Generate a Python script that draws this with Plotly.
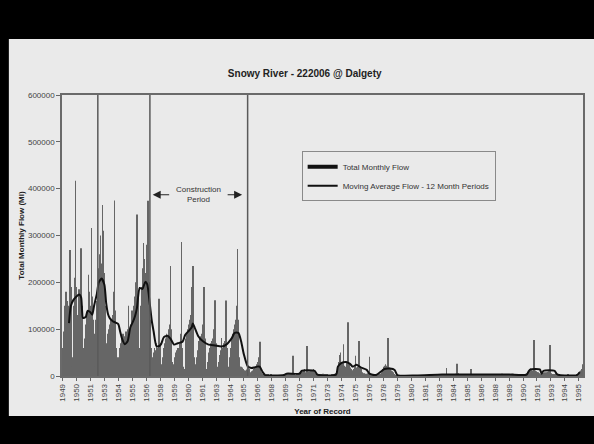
import pandas as pd
import plotly.graph_objects as go

# ---------------- data ----------------
start_month = "1949-05"

# Total monthly flow, thousands of Ml, one value per month from May 1949
flow_kml = [
    60, 95, 140, 150, 180, 160, 120, 150, 269, 190, 20, 40,
    150, 210, 417, 190, 130, 150, 185, 170, 273, 150, 30, 60,
    80, 110, 130, 140, 216, 180, 150, 316, 170, 120, 90, 20,
    120, 160, 200, 230, 260, 300, 240, 365, 310, 220, 150, 30,
    70, 90, 100, 110, 120, 100, 130, 180, 375, 140, 60, 40,
    15, 40, 60, 70, 80, 90, 75, 85, 95, 60, 100, 150,
    90, 110, 120, 140, 130, 150, 170, 200, 345, 180, 60, 40,
    150, 190, 230, 284, 250, 180, 220, 280, 374, 200, 120, 60,
    30, 40, 50, 60, 55, 70, 60, 80, 165, 70, 25, 15,
    40, 60, 70, 80, 90, 85, 100, 110, 235, 100, 30, 20,
    25, 40, 50, 55, 60, 50, 70, 90, 286, 60, 20, 15,
    60, 80, 90, 100, 110, 120, 130, 190, 235, 110, 40, 25,
    40, 55, 65, 75, 80, 85, 90, 110, 190, 80, 25, 15,
    30, 50, 60, 70, 65, 75, 80, 100, 162, 70, 20, 12,
    30, 45, 55, 81, 60, 70, 75, 100, 161, 60, 20, 10,
    40, 60, 80, 90, 100, 110, 120, 150, 271, 120, 40, 20,
    20, 18, 15, 12, 12, 10, 14, 15, 20, 15, 8, 6,
    10, 12, 15, 18, 20, 25, 30, 40, 73, 20, 8, 5,
    3, 2, 2, 2, 3, 3, 2, 2, 3, 2, 1, 1,
    1, 1, 1, 2, 2, 2, 1, 1, 2, 1, 1, 1,
    2, 2, 3, 3, 4, 4, 3, 5, 43, 4, 2, 1,
    3, 4, 5, 8, 10, 12, 10, 12, 15, 8, 5, 64,
    10, 8, 10, 12, 10, 12, 15, 8, 5, 3, 2, 2,
    2, 3, 3, 4, 5, 4, 3, 3, 4, 3, 2, 2,
    2, 2, 3, 3, 4, 5, 6, 8, 15, 30, 45, 50,
    30, 28, 68, 22, 18, 20, 28, 115, 25, 18, 15, 12,
    12, 15, 20, 43, 18, 20, 25, 75, 20, 15, 8, 5,
    6, 5, 4, 5, 6, 6, 41, 4, 3, 2, 2, 2,
    2, 2, 2, 2, 3, 4, 5, 8, 15, 20, 22, 25,
    22, 20, 81, 18, 15, 12, 10, 8, 5, 3, 2, 2,
    2, 2, 1, 1, 2, 2, 2, 1, 1, 1, 1, 1,
    1, 1, 1, 1, 1, 2, 1, 1, 1, 1, 1, 1,
    1, 1, 1, 1, 2, 2, 1, 1, 1, 1, 1, 1,
    1, 1, 1, 2, 2, 2, 2, 1, 1, 1, 1, 1,
    2, 2, 3, 4, 3, 17, 3, 3, 4, 3, 2, 2,
    3, 3, 4, 5, 26, 6, 4, 3, 3, 2, 2, 2,
    2, 2, 3, 3, 4, 3, 3, 15, 3, 2, 2, 2,
    2, 2, 3, 3, 4, 3, 3, 3, 2, 2, 2, 2,
    1, 1, 2, 2, 3, 3, 2, 2, 2, 1, 1, 1,
    2, 3, 3, 4, 5, 5, 4, 3, 3, 2, 2, 2,
    2, 3, 4, 5, 5, 4, 3, 3, 3, 2, 2, 2,
    2, 2, 3, 3, 4, 4, 5, 6, 8, 10, 14, 16,
    14, 12, 10, 77, 12, 10, 8, 8, 6, 5, 4, 5,
    6, 7, 8, 8, 7, 8, 9, 10, 66, 6, 4, 3,
    2, 3, 3, 3, 3, 2, 2, 2, 2, 1, 1, 1,
    1, 2, 2, 3, 3, 2, 2, 2, 1, 1, 1, 1,
    2, 3, 5, 8, 10, 12, 15, 25,
]

# 12-month moving average, read at these months (thousands of Ml)
ma_months = [
    "1949-12", "1950-02", "1950-05", "1950-08", "1950-11", "1951-01", "1951-02", "1951-03",
    "1951-06", "1951-08", "1951-11", "1952-01", "1952-03", "1952-06", "1952-08", "1952-11",
    "1953-02", "1953-04", "1953-06", "1953-08", "1953-11", "1954-02", "1954-05", "1954-07",
    "1954-09", "1954-12", "1955-03", "1955-06", "1955-09", "1955-11", "1956-01", "1956-04",
    "1956-07", "1956-10", "1956-12", "1957-03", "1957-05", "1957-07", "1957-10", "1958-01",
    "1958-03", "1958-06", "1958-10", "1959-01", "1959-05", "1959-09", "1960-02", "1960-05",
    "1960-09", "1960-12", "1961-01", "1961-03", "1961-07", "1961-12", "1962-06", "1963-01",
    "1963-08", "1964-01", "1964-07", "1964-10", "1965-02", "1965-05", "1965-08", "1965-12",
    "1966-04", "1966-07", "1966-10", "1967-01", "1967-04", "1967-07", "1968-05", "1969-03",
    "1969-06", "1970-08", "1970-10", "1971-12", "1972-03", "1973-11", "1974-01", "1974-05",
    "1974-10", "1975-02", "1975-05", "1975-09", "1976-02", "1976-08", "1976-11", "1977-06",
    "1977-11", "1978-03", "1978-09", "1979-02", "1979-05", "1981-01", "1983-05", "1986-09",
    "1989-05", "1990-12", "1991-02", "1991-04", "1992-02", "1992-04", "1992-06", "1993-06",
    "1993-08", "1993-11", "1995-06", "1995-09",
]
ma_kml = [
    113, 150, 163, 170, 174, 168, 140, 124,
    126, 139, 136, 131, 150, 176, 200, 208,
    195, 155, 132, 123, 117, 114, 111, 95,
    80, 68, 74, 104, 117, 128, 145, 188,
    186, 201, 196, 152, 118, 95, 64, 64,
    68, 83, 86, 80, 67, 70, 73, 88,
    97, 104, 112, 104, 85, 74, 67, 65,
    63, 67, 81, 92, 92, 74, 46, 21,
    17, 18, 20, 20, 9, 2, 1, 2,
    5, 5, 11, 11, 3, 3, 20, 28,
    30, 26, 20, 24, 18, 13, 5, 2,
    9, 15, 16, 13, 2, 1, 3, 3,
    3, 3, 10, 14, 14, 5, 11, 11,
    5, 2, 2, 8,
]

tick_labels = [
    "1949", "1950", "1951", "1953", "1954", "1955", "1956", "1958", "1959", "1960",
    "1961", "1963", "1964", "1965", "1966", "1968", "1969", "1970", "1971", "1973",
    "1974", "1975", "1976", "1978", "1979", "1980", "1981", "1983", "1984", "1985",
    "1986", "1988", "1989", "1990", "1991", "1993", "1994", "1995",
]
tick_every_months = 15

marker_dates = ["1952-07-01", "1957-03-01", "1965-12-01"]
construction_label = "Construction<br>Period"

# ---------------- derived ----------------
flow_ml = [v * 1000 for v in flow_kml]
ma_ml = [v * 1000 for v in ma_kml]
months = pd.date_range(start_month, periods=len(flow_ml), freq="MS")
ma_dates = pd.to_datetime(ma_months)
tickvals = list(months[::tick_every_months][: len(tick_labels)])
x_range = [months[0] - pd.Timedelta(days=15), months[-1] + pd.Timedelta(days=15)]

FONT = "Liberation Sans, Arial, sans-serif"

fig = go.Figure()
fig.add_trace(go.Bar(
    x=months, y=flow_ml, name="Total Monthly Flow",
    marker=dict(color="#666666", line=dict(width=0)),
    legendgroup="flow", showlegend=False,
))
fig.add_trace(go.Scatter(
    x=[None], y=[None], mode="lines", name="Total Monthly Flow",
    line=dict(color="#111111", width=4), legendgroup="flow",
))
fig.add_trace(go.Scatter(
    x=ma_dates, y=ma_ml, mode="lines", name="Moving Average Flow - 12 Month Periods",
    line=dict(color="#111111", width=2, shape="spline", smoothing=0.6),
))

shapes = [dict(type="rect", xref="paper", yref="paper", x0=-0.102, x1=1.03,
               y0=-0.142, y1=1.199, fillcolor="#eaeaea", line=dict(width=0),
               layer="below")]
for d in marker_dates:
    shapes.append(dict(type="line", xref="x", yref="paper", x0=d, x1=d, y0=0, y1=1,
                       line=dict(color="#5a5a5a", width=1.5)))

mid = pd.Timestamp(marker_dates[1]) + (pd.Timestamp(marker_dates[2]) - pd.Timestamp(marker_dates[1])) / 2
annotations = [
    dict(x=mid, y=387000, xref="x", yref="y", text=construction_label, showarrow=False,
         font=dict(family=FONT, size=8, color="#333333")),
    dict(x=pd.Timestamp(marker_dates[1]) + pd.Timedelta(days=90), y=387000, xref="x", yref="y",
         text="", showarrow=True, ax=18, ay=0, arrowhead=2, arrowsize=1.6,
         arrowwidth=1, arrowcolor="#222222"),
    dict(x=pd.Timestamp(marker_dates[2]) - pd.Timedelta(days=180), y=387000, xref="x", yref="y",
         text="", showarrow=True, ax=-16, ay=0, arrowhead=2, arrowsize=1.6,
         arrowwidth=1, arrowcolor="#222222"),
]

fig.update_layout(
    width=594, height=444,
    margin=dict(l=62, r=11, t=95, b=68),
    paper_bgcolor="black", plot_bgcolor="rgba(0,0,0,0)",
    bargap=0.35,
    font=dict(family=FONT, size=8, color="#444444"),
    title=dict(text="<b>Snowy River - 222006 @ Dalgety</b>", x=0.513, xanchor="center",
               y=1 - 73 / 444, yanchor="middle", font=dict(family=FONT, size=10, color="#222222")),
    showlegend=True,
    legend=dict(x=0.46, y=0.80, xanchor="left", yanchor="top", bgcolor="rgba(0,0,0,0)",
                bordercolor="#8a8a8a", borderwidth=1, font=dict(family=FONT, size=8, color="#333333"),
                tracegroupgap=0),
    shapes=shapes, annotations=annotations,
)
fig.update_xaxes(
    type="date", range=x_range, tickmode="array", tickvals=tickvals, ticktext=tick_labels,
    tickangle=-90, ticks="outside", ticklen=3, tickcolor="#666666",
    showline=True, linecolor="#6a6a6a", linewidth=1.5, mirror=True, showgrid=False,
    zeroline=False, automargin=False,
    tickfont=dict(family=FONT, size=8, color="#444444"),
    title=dict(text="<b>Year of Record</b>", standoff=8,
               font=dict(family=FONT, size=8, color="#222222")),
)
fig.update_yaxes(
    range=[0, 600000], dtick=100000, tickformat="d", ticks="outside", ticklen=4,
    tickcolor="#666666", showline=True, linecolor="#6a6a6a", linewidth=1.5, mirror=True,
    showgrid=False, zeroline=False, automargin=False,
    tickfont=dict(family=FONT, size=8, color="#444444"),
    title=dict(text="<b>Total Monthly Flow (Ml)</b>", standoff=2,
               font=dict(family=FONT, size=8, color="#222222")),
)

fig.write_html(
    "out.html",
    config={"displayModeBar": False},
    post_script="document.body.style.margin='0';document.body.style.background='black';",
)
